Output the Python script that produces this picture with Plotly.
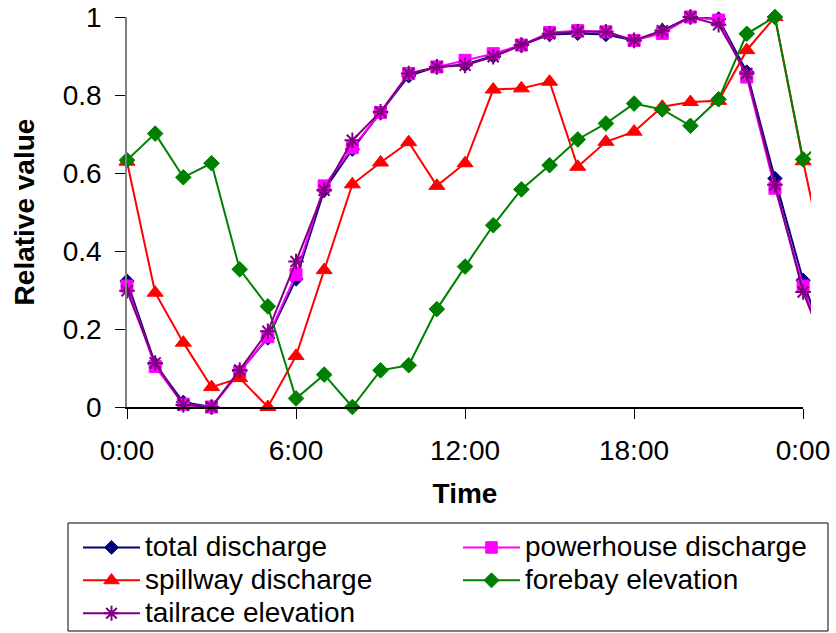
import plotly.graph_objects as go

# hours 0..25 (24 = next day's 0:00, 25 = 1:00, clipped at right edge)
hours = list(range(26))
total_discharge = [0.323, 0.110, 0.012, 0.000, 0.091, 0.177, 0.328, 0.556, 0.661, 0.754,
                   0.849, 0.872, 0.878, 0.900, 0.928, 0.955, 0.958, 0.955, 0.940, 0.965,
                   1.000, 0.995, 0.859, 0.586, 0.325, 0.110]
powerhouse_discharge = [0.310, 0.104, 0.007, 0.000, 0.090, 0.180, 0.340, 0.567, 0.665, 0.755,
                        0.855, 0.872, 0.889, 0.906, 0.928, 0.960, 0.965, 0.962, 0.940, 0.958,
                        1.000, 0.992, 0.846, 0.561, 0.310, 0.104]
spillway_discharge = [0.629, 0.293, 0.165, 0.051, 0.074, 0.000, 0.131, 0.351, 0.571, 0.627,
                      0.679, 0.567, 0.625, 0.814, 0.817, 0.834, 0.616, 0.680, 0.706, 0.770,
                      0.782, 0.785, 0.915, 1.000, 0.630, 0.293]
forebay_elevation = [0.633, 0.701, 0.589, 0.625, 0.353, 0.258, 0.022, 0.083, 0.000, 0.094,
                     0.107, 0.251, 0.360, 0.466, 0.558, 0.620, 0.686, 0.727, 0.778, 0.763,
                     0.721, 0.789, 0.957, 1.000, 0.635, 0.701]
tailrace_elevation = [0.298, 0.113, 0.005, 0.000, 0.095, 0.194, 0.373, 0.556, 0.684, 0.757,
                      0.855, 0.872, 0.876, 0.898, 0.928, 0.957, 0.962, 0.962, 0.940, 0.965,
                      1.000, 0.980, 0.855, 0.570, 0.295, 0.113]

tick_vals = [0, 6, 12, 18, 24]
tick_text = ["0:00", "6:00", "12:00", "18:00", "0:00"]
y_tick_vals = [0, 0.2, 0.4, 0.6, 0.8, 1.0]
y_tick_text = ["0", "0.2", "0.4", "0.6", "0.8", "1"]

FONT = "Liberation Sans, Arial, sans-serif"

series = [
    ("total discharge", total_discharge, "#000080", "diamond", 11),
    ("powerhouse discharge", powerhouse_discharge, "#FF00FF", "square", 12),
    ("spillway discharge", spillway_discharge, "#FF0000", "triangle-up", 14),
    ("forebay elevation", forebay_elevation, "#008000", "diamond", 12),
    ("tailrace elevation", tailrace_elevation, "#800080", "asterisk-open", 13),
]

W, H = 836, 633
ML, MR, MT, MB = 127, 25, 17, 226
plot_w = W - ML - MR
plot_h = H - MT - MB


def px_x(p):
    return (p - ML) / plot_w


def px_y(p):
    return (H - MB - p) / plot_h


fig = go.Figure()
n_visible = 25  # markers for hours 0..24
for name, vals, color, symbol, size in series:
    sizes = [size] * n_visible + [0] * (len(hours) - n_visible)
    fig.add_trace(go.Scatter(
        x=hours, y=vals, name="<span style='font-size:28px'>%s</span>" % name,
        mode="lines+markers",
        line=dict(color=color, width=2),
        marker=dict(symbol=symbol, size=sizes, color=color, opacity=1,
                    line=dict(color=color, width=2 if "open" in symbol else 1)),
        cliponaxis=False,
        xaxis="x", yaxis="y",
    ))

# dummy trace to hold the visible time axis
fig.add_trace(go.Scatter(x=[0, 24], y=[None, None], xaxis="x2", yaxis="y",
                         showlegend=False, hoverinfo="skip", mode="lines"))

fig.update_layout(
    width=W, height=H,
    margin=dict(l=ML, r=MR, t=MT, b=MB, autoexpand=False),
    paper_bgcolor="white", plot_bgcolor="rgba(0,0,0,0)",
    font=dict(family=FONT, size=28, color="black"),
    showlegend=True,
    xaxis=dict(range=[0, 24.28], domain=[0, 1], visible=False, fixedrange=True),
    xaxis2=dict(range=[0, 24], domain=[0, 676 / plot_w], anchor="y",
                tickvals=tick_vals, ticktext=tick_text,
                showline=True, linecolor="black", linewidth=1.5,
                ticks="outside", ticklen=10, tickcolor="black", tickwidth=1,
                showgrid=False, zeroline=False, ticklabelstandoff=8,
                title=dict(text="<b>Time</b>", font=dict(size=28), standoff=18),
                tickfont=dict(size=28)),
    yaxis=dict(range=[0, 1], tickvals=y_tick_vals, ticktext=y_tick_text,
               showline=True, linecolor="#808080", linewidth=1.5,
               ticks="outside", ticklen=10, tickcolor="black", tickwidth=1,
               showgrid=False, zeroline=False, ticklabelstandoff=8,
               title=dict(text="<b>Relative value</b>", font=dict(size=28), standoff=20),
               tickfont=dict(size=28)),
    legend=dict(orientation="h", x=px_x(78), xanchor="left",
                y=px_y(526), yanchor="top",
                bgcolor="rgba(0,0,0,0)", borderwidth=0,
                font=dict(size=23, family=FONT, color="black"),
                itemwidth=57,
                entrywidth=308, entrywidthmode="pixels",
                traceorder="normal"),
    shapes=[dict(type="rect", xref="paper", yref="paper",
                 x0=px_x(68), x1=px_x(828), y0=px_y(631), y1=px_y(523),
                 line=dict(color="black", width=1), fillcolor="white", layer="below")],
)

fig.write_html("out.html")
